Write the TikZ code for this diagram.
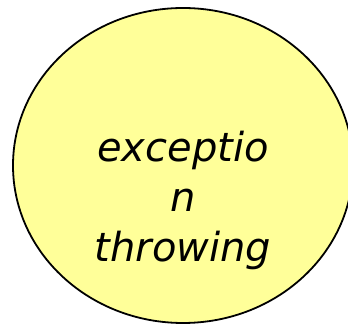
\documentclass[tikz,border=0pt]{standalone}
\usepackage{fontspec}
\setmainfont{DejaVu Sans}
\usepackage{tikz}
\usetikzlibrary{shapes.geometric}
\definecolor{bubc}{HTML}{FFFF99}
\tikzset{
  x=1pt,y=1pt,
  bubble/.style={ellipse,draw=black,line width=1.8pt,fill=bubc,minimum width=340pt,minimum height=315pt,inner sep=0pt},
  btext/.style={align=center,inner sep=0pt,font=\itshape\fontsize{40}{50}\selectfont},
}
\begin{document}
\begin{tikzpicture}
  \useasboundingbox (0,0) rectangle (348,326);
  \node[bubble] (throw) at (183,160.5) {};
  \node[btext] (throwtxt) at (183,126) {exceptio\\n\\throwing};
\end{tikzpicture}
\end{document}
